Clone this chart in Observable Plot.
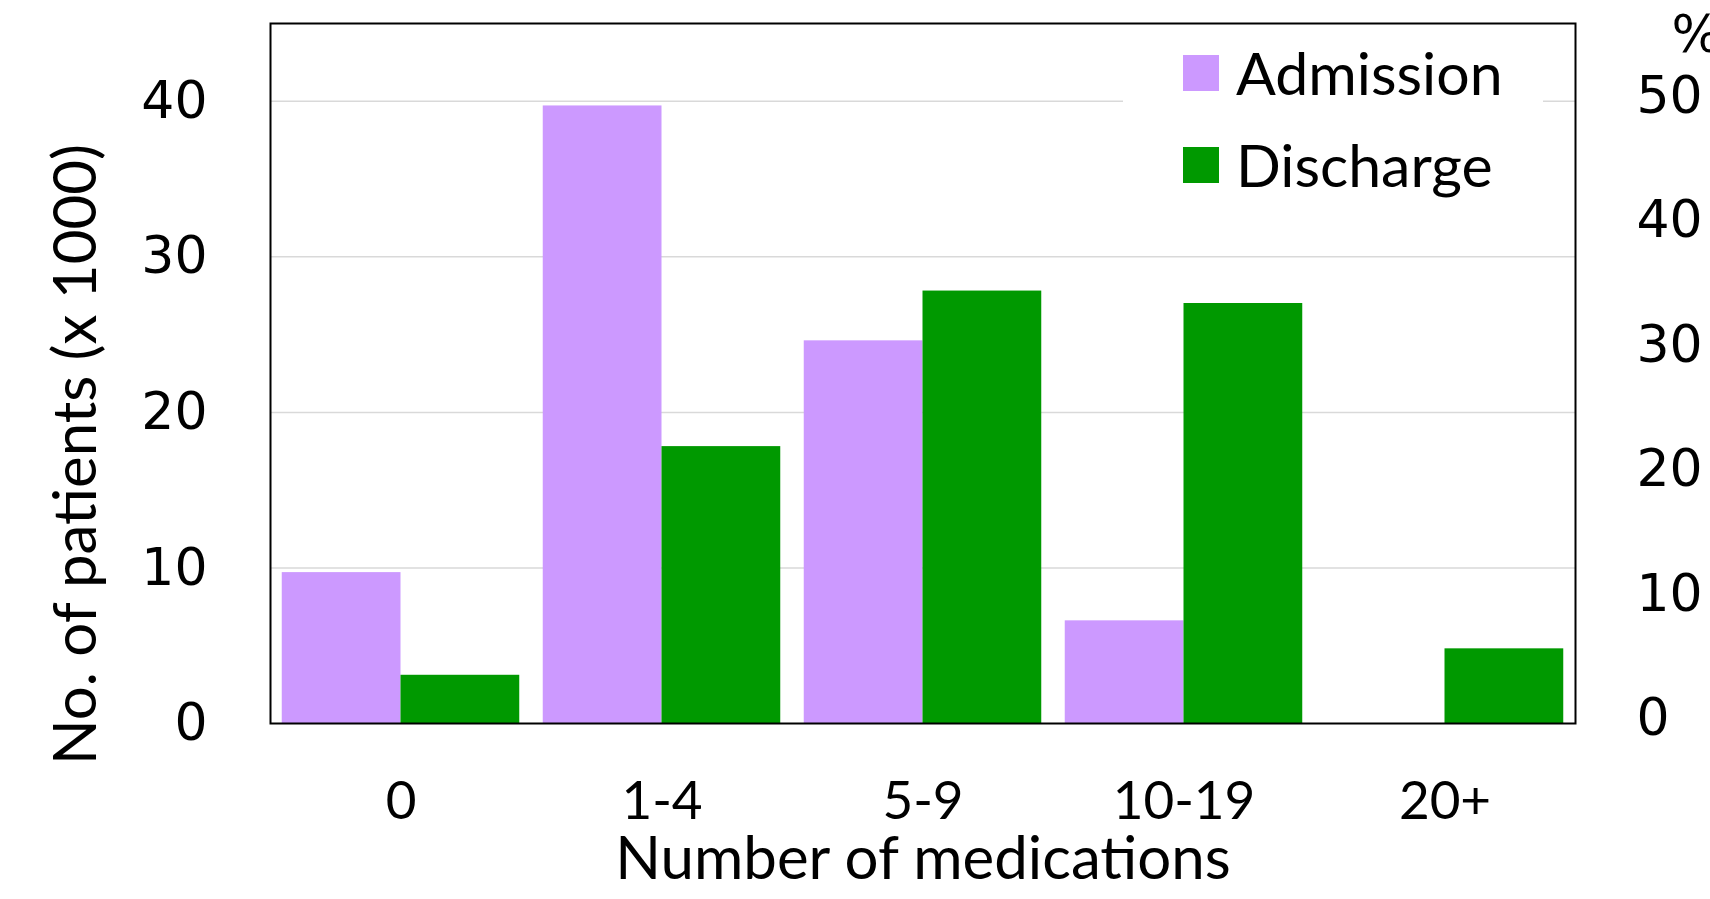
<!DOCTYPE html>
<html>
<head>
<meta charset="utf-8">
<script src="https://cdn.jsdelivr.net/npm/d3@7"></script>
<script src="https://cdn.jsdelivr.net/npm/@observablehq/plot@0.6"></script>
<style>
  html, body { margin: 0; padding: 0; background: #fff; }
  #wrap { position: relative; width: 1710px; height: 899px; overflow: hidden; }
  #legend { position: absolute; left: 1123px; top: 40px; width: 420px; height: 165px; background: #fff; }
  .item { position: absolute; left: 60px; display: flex; align-items: center; font-family: Lato, sans-serif; font-size: 59px; color: #000; }
  .sw { width: 36px; height: 36px; margin-right: 17px; }
</style>
</head>
<body>
<div id="wrap"></div>
<script>
const categories = ["0", "1-4", "5-9", "10-19", "20+"];
const seriesNames = ["Admission", "Discharge"];
const admission = [9.7, 39.7, 24.6, 6.6, 0];
const discharge = [3.1, 17.8, 27.8, 27.0, 4.8];
const seriesColors = ["#cc99ff", "#009900"];
const leftTicks = [0, 10, 20, 30, 40];
const rightTicksPct = [0, 10, 20, 30, 40, 50];
const pctToThousand = 0.8; // 50 % corresponds to 40 (x 1000)
const yLabel = "No. of patients (x 1000)";
const xLabel = "Number of medications";

const rows = categories.flatMap((c, i) => [
  {category: c, series: seriesNames[0], value: admission[i]},
  {category: c, series: seriesNames[1], value: discharge[i]}
]);

const W = 1710, H = 899, ML = 270, MR = 135, MT = 23, MB = 176;
const pIn = 0.09, pOut = 0.045;
const step = (W - ML - MR) / (categories.length - pIn + 2 * pOut);
const half = step * (1 - pIn) / 2;

const chart = Plot.plot({
  width: W, height: H,
  marginLeft: ML, marginRight: MR, marginTop: MT, marginBottom: MB,
  style: {background: "#fff", overflow: "visible"},
  x: {domain: categories, paddingInner: pIn, paddingOuter: pOut, round: false},
  y: {domain: [0, 45]},
  marks: [
    Plot.gridY([10, 20, 30, 40], {stroke: "#d9d9d9", strokeOpacity: 1, strokeWidth: 1.5}),
    Plot.barY(rows.filter(d => d.series === seriesNames[0]), {x: "category", y: "value", fill: seriesColors[0], insetRight: half}),
    Plot.barY(rows.filter(d => d.series === seriesNames[1]), {x: "category", y: "value", fill: seriesColors[1], insetLeft: half}),
    Plot.frame({stroke: "#000", strokeWidth: 2}),
    Plot.axisY({ticks: leftTicks, tickSize: 0, tickPadding: 63, label: null, fontSize: 52, fontFamily: "DejaVu Sans", fill: "#000"}),
    Plot.axisY({anchor: "right", ticks: rightTicksPct.map(p => p * pctToThousand), tickFormat: d => Math.round(d / pctToThousand), tickSize: 0, tickPadding: 61, dy: -5, label: null, fontSize: 52, fontFamily: "DejaVu Sans", fill: "#000"}),
    Plot.axisX({tickSize: 0, tickPadding: 58, label: null, fontSize: 53, fontFamily: "Lato", fill: "#000"}),
    Plot.text([xLabel], {frameAnchor: "bottom", dy: 136, text: d => d, fontSize: 60, fontFamily: "Lato", fill: "#000", textAnchor: "middle", lineAnchor: "middle"}),
    Plot.text([yLabel], {frameAnchor: "left", dx: -194, dy: 81, rotate: -90, text: d => d, fontSize: 60, fontFamily: "Lato", fill: "#000", textAnchor: "middle", lineAnchor: "middle"}),
    Plot.text(["%"], {frameAnchor: "top-right", dx: 96, dy: 12, text: d => d, fontSize: 52, fontFamily: "DejaVu Sans", fill: "#000", textAnchor: "start", lineAnchor: "middle"})
  ]
});

const wrap = document.getElementById("wrap");
wrap.appendChild(chart);

const legend = document.createElement("div");
legend.id = "legend";
seriesNames.forEach((name, i) => {
  const item = document.createElement("div");
  item.className = "item";
  item.style.top = (i === 0 ? -3 : 89) + "px";
  const sw = document.createElement("div");
  sw.className = "sw";
  sw.style.background = seriesColors[i];
  const tx = document.createElement("span");
  tx.textContent = name;
  item.appendChild(sw);
  item.appendChild(tx);
  legend.appendChild(item);
});
wrap.appendChild(legend);
</script>
</body>
</html>
